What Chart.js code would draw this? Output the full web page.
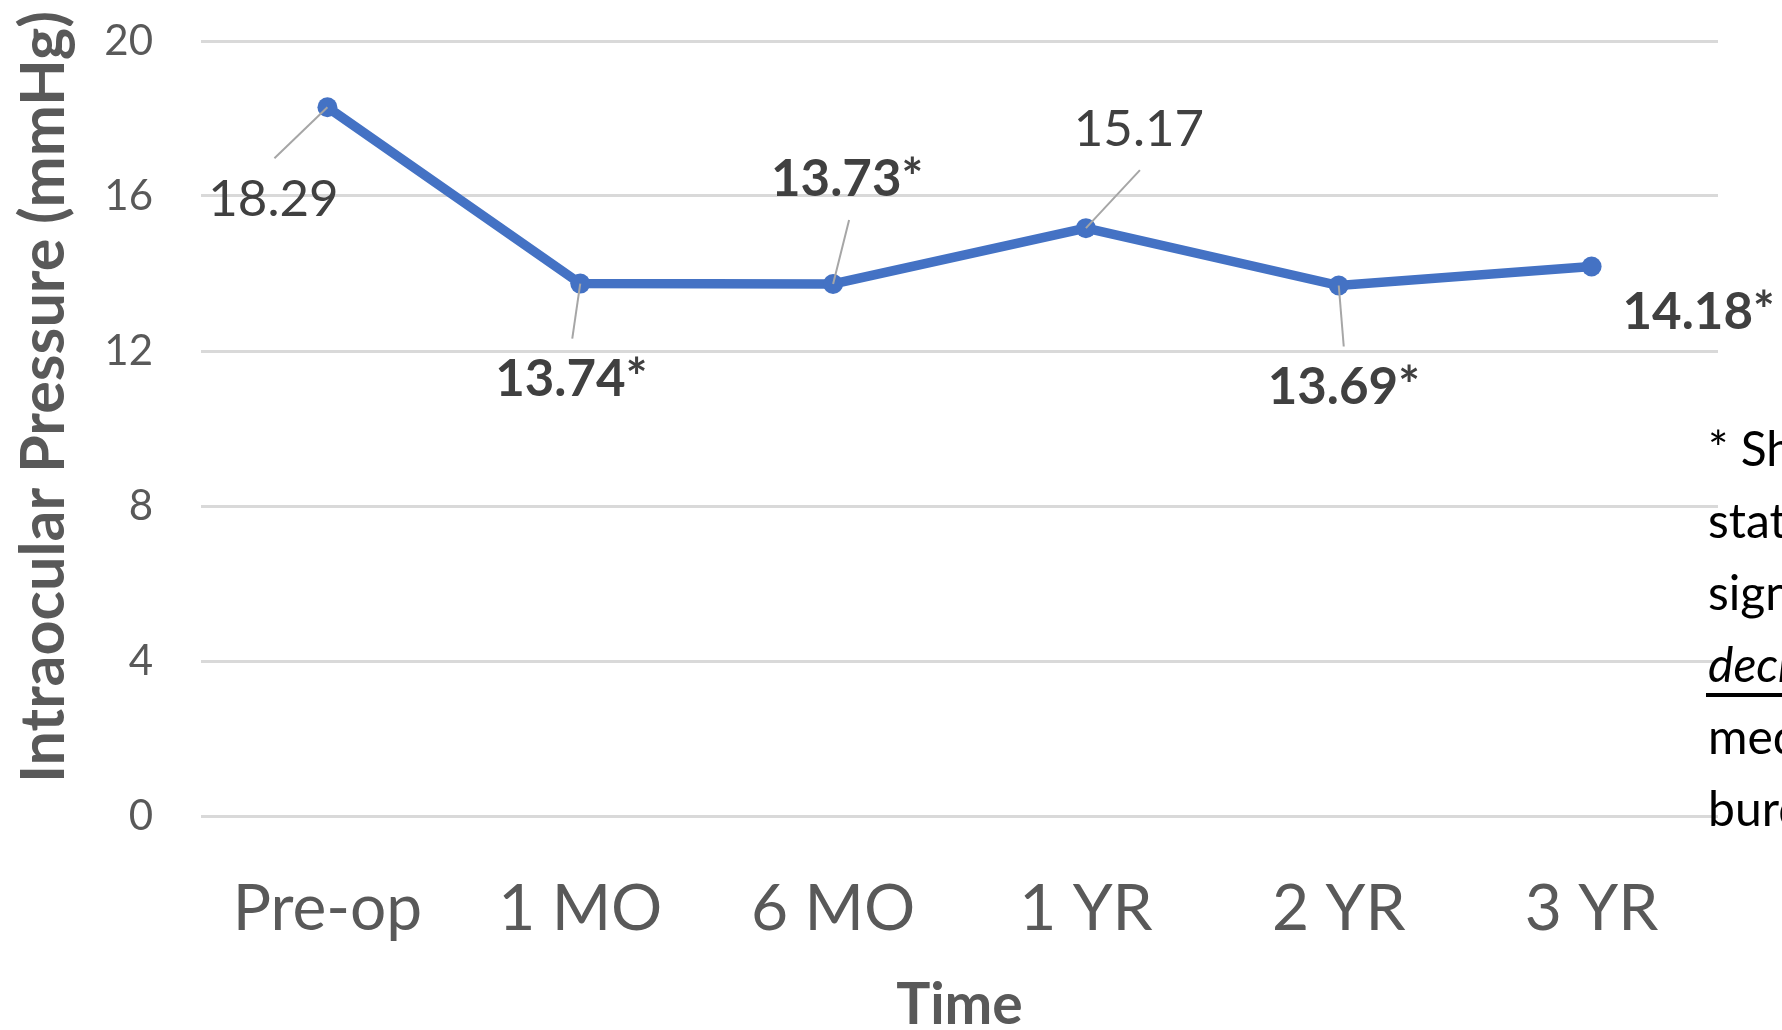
<!DOCTYPE html>
<html>
<head>
<meta charset="utf-8">
<script src="https://cdn.jsdelivr.net/npm/chart.js@4/dist/chart.umd.min.js"></script>
<style>
  html, body { margin: 0; padding: 0; background: #ffffff; }
  #wrap { width: 1782px; height: 1030px; position: relative; }
</style>
</head>
<body>
<div id="wrap"><canvas id="iop" width="1782" height="1030"></canvas></div>
<script>
// Mean intraocular pressure at each follow-up visit
const timepoints = ['Pre-op', '1 MO', '6 MO', '1 YR', '2 YR', '3 YR'];
const meanIOP = [18.29, 13.74, 13.73, 15.17, 13.69, 14.18];
// visits marked with an asterisk are shown in bold
const significant = [false, true, true, false, true, true];
const yTicks = [0, 4, 8, 12, 16, 20];
const yTitle = 'Intraocular Pressure (mmHg)';
const xTitle = 'Time';
const footnoteLines = ['* Shows', 'statistically', 'significant', 'decrease', 'medication', 'burden'];

const FONT = 'Lato, "Open Sans", "Noto Sans", sans-serif';
const BLUE = '#4472C4';

// where each value label sits relative to its marker (px), and the leader line end
const labelPlacement = [
  { dx: -54, dy: 92,  lx: -53, ly: 51 },
  { dx: -9,  dy: 96,  lx: -8,  ly: 55 },
  { dx: 14,  dy: -104, lx: 16, ly: -64 },
  { dx: 53,  dy: -99, lx: 54,  ly: -58 },
  { dx: 5,   dy: 102, lx: 5,   ly: 61 },
  { dx: 107, dy: 46,  lx: null, ly: null }
];

const valueLabels = {
  id: 'valueLabels',
  afterDraw(chart) {
    const ctx = chart.ctx;
    const meta = chart.getDatasetMeta(0);
    ctx.save();
    meta.data.forEach((pt, i) => {
      const p = labelPlacement[i];
      if (p.lx !== null) {
        ctx.strokeStyle = '#A6A6A6';
        ctx.lineWidth = 2;
        ctx.beginPath();
        ctx.moveTo(pt.x, pt.y);
        ctx.lineTo(pt.x + p.lx, pt.y + p.ly);
        ctx.stroke();
      }
      const txt = meanIOP[i].toFixed(2) + (significant[i] ? '*' : '');
      ctx.font = (significant[i] ? 'bold ' : '') + '51px ' + FONT;
      ctx.fillStyle = '#404040';
      ctx.textAlign = 'center';
      ctx.textBaseline = 'middle';
      ctx.fillText(txt, pt.x + p.dx, pt.y + p.dy);
    });
    ctx.restore();
  }
};

// vertical axis title, set a little above the middle of the plot
const sideTitle = {
  id: 'sideTitle',
  afterDraw(chart) {
    const ctx = chart.ctx;
    ctx.save();
    ctx.translate(44, 397);
    ctx.rotate(-Math.PI / 2);
    ctx.font = 'bold 61px ' + FONT;
    ctx.fillStyle = '#595959';
    ctx.textAlign = 'center';
    ctx.textBaseline = 'middle';
    ctx.fillText(yTitle, 0, 0);
    ctx.restore();
  }
};

const footnote = {
  id: 'footnote',
  afterDraw(chart) {
    const ctx = chart.ctx;
    ctx.save();
    ctx.fillStyle = '#000000';
    ctx.textAlign = 'left';
    ctx.textBaseline = 'alphabetic';
    const x0 = 1708, y0 = 466, step = 72;
    footnoteLines.forEach((line, i) => {
      const italic = i === 3;
      ctx.font = (italic ? 'italic ' : '') + '48px ' + FONT;
      const y = y0 + i * step;
      ctx.fillText(line, x0, y);
      if (italic) {
        const w = ctx.measureText(line).width;
        ctx.fillRect(x0 - 2, y + 11, w + 2, 4);
      }
    });
    ctx.restore();
  }
};

new Chart(document.getElementById('iop'), {
  type: 'line',
  data: {
    labels: timepoints,
    datasets: [{
      data: meanIOP,
      borderColor: BLUE,
      backgroundColor: BLUE,
      borderWidth: 9.5,
      pointRadius: 10,
      pointBorderWidth: 0,
      pointBackgroundColor: BLUE,
      tension: 0,
      clip: false
    }]
  },
  options: {
    responsive: false,
    animation: false,
    devicePixelRatio: 1,
    layout: { padding: { left: 0, right: 64, top: 41, bottom: 0 } },
    plugins: { legend: { display: false }, tooltip: { enabled: false } },
    scales: {
      x: {
        offset: true,
        grid: { display: false, drawTicks: false },
        border: { display: false },
        ticks: { color: '#595959', font: { family: FONT, size: 64 }, padding: 55, maxRotation: 0 },
        title: {
          display: true, text: xTitle, color: '#595959',
          font: { family: FONT, size: 57, weight: 'bold', lineHeight: 0.8 },
          padding: { top: 0, bottom: 2 }
        },
        afterFit(scale) { scale.height = 214; }
      },
      y: {
        min: 0, max: 20,
        afterBuildTicks(scale) { scale.ticks = yTicks.map(v => ({ value: v })); },
        grid: { color: '#D9D9D9', lineWidth: 3, drawTicks: false },
        border: { display: false },
        ticks: { color: '#595959', font: { family: FONT, size: 42 }, padding: 48 },
        title: { display: false },
        afterFit(scale) {
          scale.width = 201;
          scale.paddingTop = 0;
          scale.paddingBottom = 0;
        }
      }
    }
  },
  plugins: [valueLabels, sideTitle, footnote]
});
</script>
</body>
</html>
